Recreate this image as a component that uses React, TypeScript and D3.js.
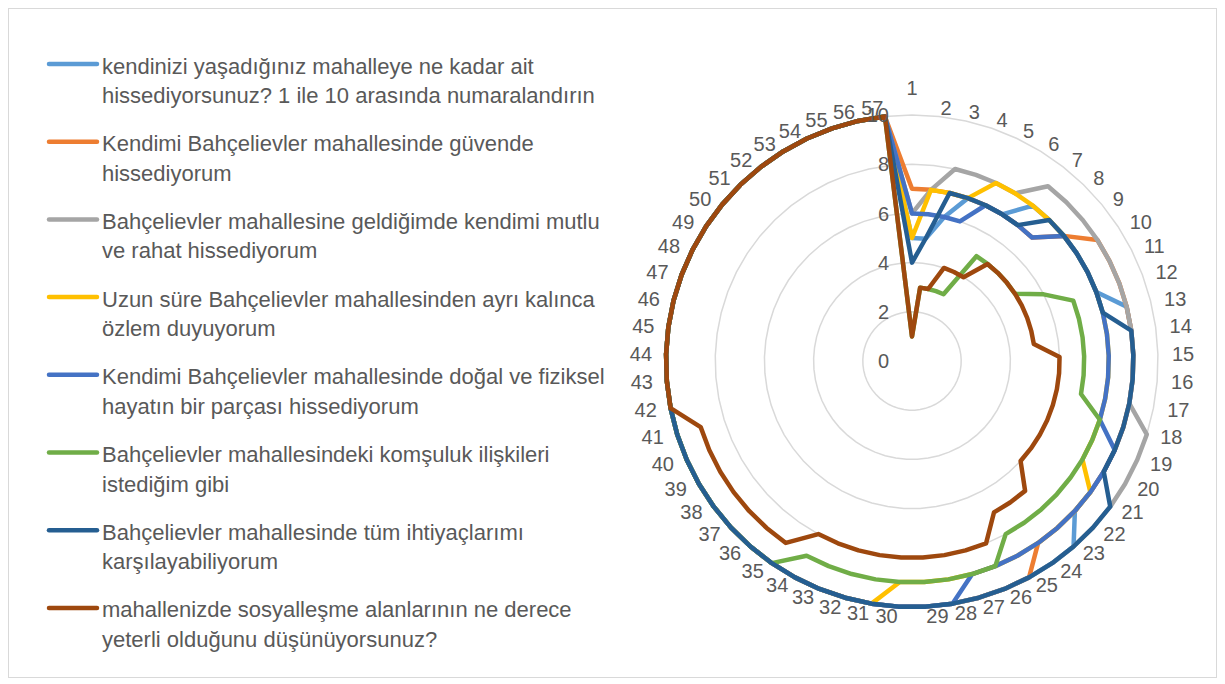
import * as d3 from 'd3';

// 57 katılımcı, her seri küçükten büyüğe sıralı cevaplar
const CATEGORIES = [
  '1', '2', '3', '4', '5', '6', '7', '8', '9', '10',
  '11', '12', '13', '14', '15', '16', '17', '18', '19', '20',
  '21', '22', '23', '24', '25', '26', '27', '28', '29', '30',
  '31', '32', '33', '34', '35', '36', '37', '38', '39', '40',
  '41', '42', '43', '44', '45', '46', '47', '48', '49', '50',
  '51', '52', '53', '54', '55', '56', '57',
];

const RADIAL_TICKS = [0, 2, 4, 6, 8, 10];

const aitlik = [
  5, 5, 6, 7, 7, 7, 8, 8, 8, 8, 8, 8, 9, 9, 9, 9, 9, 9, 9, 9,
  9, 9, 10, 10, 10, 10, 10, 10, 10, 10, 10, 10, 10, 10, 10, 10, 10, 10, 10, 10,
  10, 10, 10, 10, 10, 10, 10, 10, 10, 10, 10, 10, 10, 10, 10, 10, 10,
];
const guvende = [
  7, 7, 7, 7, 7, 7, 7, 7, 8, 9, 9, 9, 9, 9, 9, 9, 9, 9, 9, 9,
  9, 9, 9, 9, 10, 10, 10, 10, 10, 10, 10, 10, 10, 10, 10, 10, 10, 10, 10, 10,
  10, 10, 10, 10, 10, 10, 10, 10, 10, 10, 10, 10, 10, 10, 10, 10, 10,
];
const mutlu = [
  6, 7, 8, 8, 8, 8, 9, 9, 9, 9, 9, 9, 9, 9, 9, 9, 9, 10, 10, 10,
  10, 10, 10, 10, 10, 10, 10, 10, 10, 10, 10, 10, 10, 10, 10, 10, 10, 10, 10, 10,
  10, 10, 10, 10, 10, 10, 10, 10, 10, 10, 10, 10, 10, 10, 10, 10, 10,
];
const ozlem = [
  5, 7, 7, 7, 8, 8, 8, 8, 8, 8, 8, 8, 8, 8, 8, 8, 8, 8, 8, 8,
  9, 9, 9, 9, 9, 9, 9, 9, 9, 9, 10, 10, 10, 10, 10, 10, 10, 10, 10, 10,
  10, 10, 10, 10, 10, 10, 10, 10, 10, 10, 10, 10, 10, 10, 10, 10, 10,
];
const dogal = [
  6, 6, 6, 6, 7, 7, 7, 7, 8, 8, 8, 8, 8, 8, 8, 8, 8, 8, 9, 9,
  9, 9, 9, 9, 9, 9, 9, 10, 10, 10, 10, 10, 10, 10, 10, 10, 10, 10, 10, 10,
  10, 10, 10, 10, 10, 10, 10, 10, 10, 10, 10, 10, 10, 10, 10, 10, 10,
];
const komsuluk = [
  1, 3, 3, 3, 3, 5, 5, 5, 5, 5, 6, 7, 7, 7, 7, 7, 7, 8, 8, 8,
  8, 8, 8, 8, 8, 9, 9, 9, 9, 9, 9, 9, 9, 9, 10, 10, 10, 10, 10, 10,
  10, 10, 10, 10, 10, 10, 10, 10, 10, 10, 10, 10, 10, 10, 10, 10, 10,
];
const ihtiyac = [
  4, 5, 7, 7, 7, 7, 7, 8, 8, 8, 8, 8, 8, 9, 9, 9, 9, 9, 9, 9,
  10, 10, 10, 10, 10, 10, 10, 10, 10, 10, 10, 10, 10, 10, 10, 10, 10, 10, 10, 10,
  10, 10, 10, 10, 10, 10, 10, 10, 10, 10, 10, 10, 10, 10, 10, 10, 10,
];
const sosyal = [
  1, 3, 3, 4, 4, 4, 5, 5, 5, 5, 5, 5, 5, 5, 6, 6, 6, 6, 6, 6,
  6, 6, 7, 7, 7, 8, 8, 8, 8, 8, 8, 8, 8, 8, 9, 9, 9, 9, 9, 9,
  9, 10, 10, 10, 10, 10, 10, 10, 10, 10, 10, 10, 10, 10, 10, 10, 10,
];

const SERIES = [
  { name: ['kendinizi yaşadığınız mahalleye ne kadar ait', 'hissediyorsunuz? 1 ile 10 arasında numaralandırın'], values: aitlik, color: '#5B9BD5' },
  { name: ['Kendimi Bahçelievler mahallesinde güvende', 'hissediyorum'], values: guvende, color: '#ED7D31' },
  { name: ['Bahçelievler mahallesine geldiğimde kendimi mutlu', 've rahat hissediyorum'], values: mutlu, color: '#A5A5A5' },
  { name: ['Uzun süre Bahçelievler mahallesinden ayrı kalınca', 'özlem duyuyorum'], values: ozlem, color: '#FFC000' },
  { name: ['Kendimi Bahçelievler mahallesinde doğal ve fiziksel', 'hayatın bir parçası hissediyorum'], values: dogal, color: '#4472C4' },
  { name: ['Bahçelievler mahallesindeki komşuluk ilişkileri', 'istediğim gibi'], values: komsuluk, color: '#70AD47' },
  { name: ['Bahçelievler mahallesinde tüm ihtiyaçlarımı', 'karşılayabiliyorum'], values: ihtiyac, color: '#255E91' },
  { name: ['mahallenizde sosyalleşme alanlarının ne derece', 'yeterli olduğunu düşünüyorsunuz?'], values: sosyal, color: '#9E480E' },
];

const WIDTH = 1209;
const HEIGHT = 671;
const CX = 904;
const CY = 353;
const RADIUS = 246;
const FONT = '"Liberation Sans", Arial, sans-serif';
const TEXT_COLOR = '#595959';

export default function App() {
  const rScale = d3.scaleLinear().domain([0, 10]).range([0, RADIUS]);
  const angle = d3.scaleLinear().domain([0, CATEGORIES.length]).range([0, 2 * Math.PI]);

  const radial = d3
    .lineRadial<number>()
    .angle((_, i) => angle(i))
    .radius(d => rScale(d))
    .curve(d3.curveLinearClosed);

  // Izgara halkaları (57 köşeli çokgen)
  const rings = RADIAL_TICKS.filter(t => t > 0).map(t => ({
    t,
    path: radial(CATEGORIES.map(() => t)) as string,
  }));

  return (
    <svg width={WIDTH} height={HEIGHT} style={{ display: 'block' }} fontFamily={FONT}>
      <rect x={0.5} y={0.5} width={WIDTH - 1} height={HEIGHT - 2} fill="#fff" stroke="#D9D9D9" />

      {/* Lejant */}
      <g>
        {SERIES.map((s, i) => {
          const y = 56 + i * 77.7;
          return (
            <g key={i}>
              <line x1={41} x2={89} y1={y} y2={y} stroke={s.color} strokeWidth={4.5} strokeLinecap="round" />
              {s.name.map((line, j) => (
                <text key={j} x={94} y={y + 9.5 + j * 29.5} fontSize={22} fill={TEXT_COLOR}>
                  {line}
                </text>
              ))}
            </g>
          );
        })}
      </g>

      <g transform={`translate(${CX}, ${CY})`}>
        {rings.map(r => (
          <path key={r.t} d={r.path} fill="none" stroke="#D9D9D9" strokeWidth={1.5} />
        ))}

        {SERIES.map((s, i) => (
          <path
            key={i}
            d={radial(s.values) as string}
            fill="none"
            stroke={s.color}
            strokeWidth={4.5}
            strokeLinejoin="round"
          />
        ))}

        {/* Değer ekseni etiketleri */}
        {RADIAL_TICKS.map(t => (
          <text key={t} x={-23} y={-rScale(t)} dy="0.36em" textAnchor="end" fontSize={20} fill={TEXT_COLOR}>
            {t}
          </text>
        ))}

        {/* Kategori etiketleri */}
        {CATEGORIES.map((c, i) => {
          const a = angle(i);
          const sin = Math.sin(a);
          const top = Math.abs(sin) < 0.01;
          const x = top ? 0 : (RADIUS + 14) * sin;
          const y = top ? -(RADIUS + 27) : -(RADIUS + 9) * Math.cos(a);
          return (
            <text
              key={c}
              x={x}
              y={y}
              dy="0.36em"
              textAnchor={top ? 'middle' : sin > 0 ? 'start' : 'end'}
              fontSize={20}
              fill={TEXT_COLOR}
            >
              {c}
            </text>
          );
        })}
      </g>
    </svg>
  );
}
